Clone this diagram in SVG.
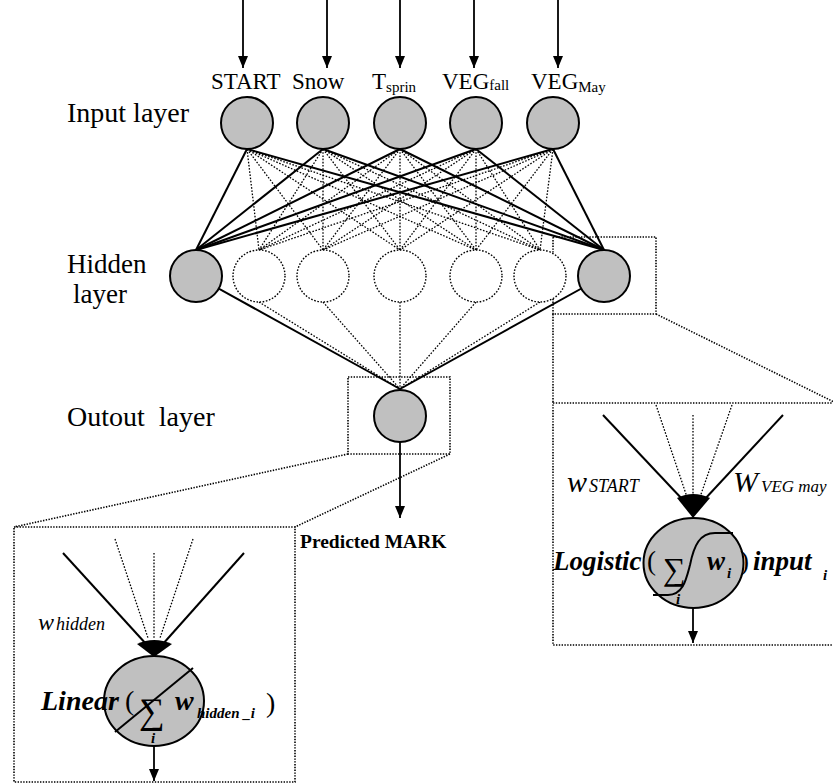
<svg xmlns="http://www.w3.org/2000/svg" width="833" height="784" viewBox="0 0 833 784">
<style>
.lbl{font-family:"Liberation Serif","Times New Roman",serif;fill:#000}
.bi{font-family:"Liberation Serif","Times New Roman",serif;font-weight:bold;font-style:italic;fill:#000}
.it{font-family:"Liberation Serif","Times New Roman",serif;font-style:italic;fill:#000}
.node{fill:#c0c0c0;stroke:#000;stroke-width:2}
.dnode{fill:#fff;stroke:#000;stroke-width:1.4;stroke-dasharray:1.6 1.6}
.solid{stroke:#000;stroke-width:2;fill:none}
.dot{stroke:#000;stroke-width:1.3;stroke-dasharray:1.6 1.6;fill:none}
.box{stroke:#000;stroke-width:1.6;stroke-dasharray:1.4 1.4;fill:none}
.arrow{stroke:#000;stroke-width:1.8;fill:none;marker-end:url(#ah)}
</style>
<defs>
<marker id="ah" viewBox="0 0 12 10" refX="12" refY="5" markerWidth="12" markerHeight="10" markerUnits="userSpaceOnUse" orient="auto">
<path d="M0,0 L12,5 L0,10 z" fill="#000"/>
</marker>
</defs>
<rect width="833" height="784" fill="#fff"/>

<g id="connectors">
<line class="arrow" x1="243" y1="0" x2="243" y2="68"/>
<line class="arrow" x1="327" y1="0" x2="327" y2="68"/>
<line class="arrow" x1="400" y1="0" x2="400" y2="68"/>
<line class="arrow" x1="474" y1="0" x2="474" y2="68"/>
<line class="arrow" x1="558" y1="0" x2="558" y2="68"/>
<g class="solid">
<line x1="247" y1="149" x2="196" y2="250"/>
<line x1="323" y1="149" x2="196" y2="250"/>
<line x1="400" y1="149" x2="196" y2="250"/>
<line x1="476" y1="149" x2="196" y2="250"/>
<line x1="553" y1="149" x2="196" y2="250"/>
<line x1="247" y1="149" x2="604" y2="250"/>
<line x1="323" y1="149" x2="604" y2="250"/>
<line x1="400" y1="149" x2="604" y2="250"/>
<line x1="476" y1="149" x2="604" y2="250"/>
<line x1="553" y1="149" x2="604" y2="250"/>
</g>
<g class="dot">
<line x1="247" y1="149" x2="259" y2="250"/><line x1="247" y1="149" x2="323" y2="250"/><line x1="247" y1="149" x2="400" y2="250"/><line x1="247" y1="149" x2="476" y2="250"/><line x1="247" y1="149" x2="540" y2="250"/>
<line x1="323" y1="149" x2="259" y2="250"/><line x1="323" y1="149" x2="323" y2="250"/><line x1="323" y1="149" x2="400" y2="250"/><line x1="323" y1="149" x2="476" y2="250"/><line x1="323" y1="149" x2="540" y2="250"/>
<line x1="400" y1="149" x2="259" y2="250"/><line x1="400" y1="149" x2="323" y2="250"/><line x1="400" y1="149" x2="400" y2="250"/><line x1="400" y1="149" x2="476" y2="250"/><line x1="400" y1="149" x2="540" y2="250"/>
<line x1="476" y1="149" x2="259" y2="250"/><line x1="476" y1="149" x2="323" y2="250"/><line x1="476" y1="149" x2="400" y2="250"/><line x1="476" y1="149" x2="476" y2="250"/><line x1="476" y1="149" x2="540" y2="250"/>
<line x1="553" y1="149" x2="259" y2="250"/><line x1="553" y1="149" x2="323" y2="250"/><line x1="553" y1="149" x2="400" y2="250"/><line x1="553" y1="149" x2="476" y2="250"/><line x1="553" y1="149" x2="540" y2="250"/>
</g>
<line class="solid" x1="196" y1="276" x2="400" y2="389"/>
<line class="solid" x1="604" y1="276" x2="400" y2="389"/>
<g class="dot">
<line x1="259" y1="302" x2="400" y2="389"/>
<line x1="323" y1="302" x2="400" y2="389"/>
<line x1="400" y1="302" x2="400" y2="389"/>
<line x1="476" y1="302" x2="400" y2="389"/>
<line x1="540" y1="302" x2="400" y2="389"/>
</g>
<line class="arrow" x1="400" y1="442" x2="400" y2="518"/>
<rect class="box" x="348" y="377" width="102" height="77"/>
<line class="box" x1="348" y1="454" x2="14" y2="527"/>
<line class="box" x1="450" y1="454" x2="295" y2="527"/>
<rect class="box" x="14" y="527" width="281" height="255"/>
<rect class="box" x="553" y="237" width="103" height="77"/>
<line class="box" x1="553" y1="314" x2="553" y2="403"/>
<line class="box" x1="656" y1="314" x2="836" y2="403"/>
<rect class="box" x="553" y="403" width="290" height="242"/>
<line class="solid" x1="603" y1="415" x2="683" y2="500"/>
<line class="solid" x1="783" y1="415" x2="704" y2="500"/>
<line class="dot" x1="656" y1="405" x2="688" y2="500"/>
<line class="dot" x1="693" y1="415" x2="693" y2="500"/>
<line class="dot" x1="732" y1="405" x2="699" y2="500"/>
<path d="M677,498 Q693,490 710,498 L693,518 Z" fill="#000"/>
<line class="arrow" x1="693" y1="608" x2="693" y2="643"/>
<line class="solid" x1="63" y1="553" x2="147" y2="645"/>
<line class="solid" x1="244" y1="553" x2="162" y2="645"/>
<line class="dot" x1="115" y1="539" x2="148" y2="638"/>
<line class="dot" x1="154" y1="553" x2="154" y2="638"/>
<line class="dot" x1="193" y1="539" x2="160" y2="638"/>
<path d="M137,644 Q154,636 172,644 L154,657 Z" fill="#000"/>
<line class="arrow" x1="154" y1="747" x2="154" y2="781"/>
</g>

<g id="input-nodes">
<g id="in-start"><circle class="node" cx="247" cy="123" r="26"/><text class="lbl" x="211" y="89" font-size="23">START</text></g>
<g id="in-snow"><circle class="node" cx="323" cy="123" r="26"/><text class="lbl" x="292" y="89" font-size="23">Snow</text></g>
<g id="in-tspring"><circle class="node" cx="400" cy="123" r="26"/><text class="lbl" x="372" y="89" font-size="23">T<tspan font-size="15" dy="3">sprin</tspan></text></g>
<g id="in-vegfall"><circle class="node" cx="476" cy="123" r="26"/><text class="lbl" x="442" y="89" font-size="23">VEG<tspan font-size="15" dy="1">fall</tspan></text></g>
<g id="in-vegmay"><circle class="node" cx="553" cy="123" r="26"/><text class="lbl" x="531" y="89" font-size="23">VEG<tspan font-size="15" dy="3">May</tspan></text></g>
</g>

<g id="hidden-nodes">
<circle id="h1" class="node" cx="196" cy="276" r="26"/>
<circle id="h2" class="dnode" cx="259" cy="276" r="26"/>
<circle id="h3" class="dnode" cx="323" cy="276" r="26"/>
<circle id="h4" class="dnode" cx="400" cy="276" r="26"/>
<circle id="h5" class="dnode" cx="476" cy="276" r="26"/>
<circle id="h6" class="dnode" cx="540" cy="276" r="26"/>
<circle id="h7" class="node" cx="604" cy="276" r="26"/>
</g>

<g id="output-node">
<circle class="node" cx="400" cy="416" r="26"/>
<text class="lbl" x="300" y="548" font-size="19.5" font-weight="bold">Predicted MARK</text>
</g>

<g id="layer-labels">
<text class="lbl" x="67" y="122" font-size="28">Input layer</text>
<text class="lbl" x="67" y="273" font-size="27">Hidden</text>
<text class="lbl" x="73" y="303" font-size="27">layer</text>
<text class="lbl" x="67" y="426" font-size="28" xml:space="preserve">Outout  layer</text>
</g>

<g id="hidden-detail">
<ellipse class="node" cx="693.5" cy="563" rx="50" ry="45"/>
<text class="it" x="567" y="492" font-size="30">w<tspan font-size="18" dx="2">START</tspan></text>
<text class="it" x="733" y="492" font-size="30">W<tspan font-size="17" dx="3">VEG may</tspan></text>
<text class="bi" x="553" y="570" font-size="27">Logistic</text>
<text class="lbl" x="647" y="570" font-size="27">(</text>
<text class="lbl" x="663" y="580" font-size="32">∑</text>
<text class="it" x="676" y="604" font-size="15" font-weight="bold">i</text>
<text class="bi" x="707" y="570" font-size="27">w</text>
<text class="it" x="727" y="578" font-size="15" font-weight="bold">i</text>
<text class="lbl" x="740" y="570" font-size="27">)</text>
<text class="bi" x="753" y="570" font-size="27">input</text>
<text class="it" x="823" y="580" font-size="15" font-weight="bold">i</text>
<path d="M653,595 L668,595 C683,595 686,580 690,565 C694,545 700,533 715,533 L733,533" fill="none" stroke="#000" stroke-width="2"/>
</g>

<g id="output-detail">
<ellipse class="node" cx="154" cy="701" rx="50" ry="45"/>
<line x1="115" y1="732" x2="193" y2="668" stroke="#000" stroke-width="2"/>
<text class="it" x="38" y="630" font-size="24">w<tspan font-size="18" dx="2">hidden</tspan></text>
<text class="bi" x="41" y="710" font-size="28">Linear</text>
<text class="lbl" x="125" y="710" font-size="28">(</text>
<text class="lbl" x="139" y="723" font-size="36">∑</text>
<text class="it" x="151" y="743" font-size="15" font-weight="bold">i</text>
<text class="bi" x="175" y="710" font-size="28">w</text>
<text class="bi" x="197" y="718" font-size="15" xml:space="preserve">hidden _i</text>
<text class="lbl" x="266" y="712" font-size="28">)</text>
</g>
</svg>
